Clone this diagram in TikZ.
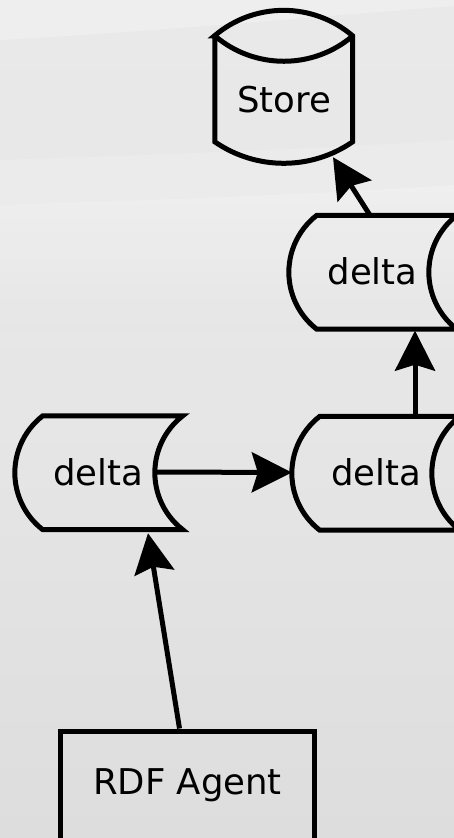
\documentclass[tikz,border=0pt]{standalone}
\usepackage{fontspec}
\setmainfont{DejaVu Sans}
\usetikzlibrary{arrows.meta,calc}
\definecolor{bgtop}{HTML}{E9E9E9}
\definecolor{bgmid}{HTML}{E6E6E6}
\definecolor{bgbot}{HTML}{DDDDDD}
\definecolor{bglight}{HTML}{F1F1F1}
\newcommand\deltashape[1]{%
  \draw[outline] ($(#1.north west)+(28,0)$)
    arc[start angle=127.7,end angle=232.3,radius=72] -- ++(140,0)
    arc[start angle=232.3,end angle=127.7,radius=72] -- cycle;}
\begin{document}
\begin{tikzpicture}[x=1pt,y=1pt,
  lbl/.style={font=\fontsize{35.5}{42}\selectfont, text=black},
  outline/.style={line width=5pt, draw=black, line join=miter},
  arr/.style={line width=5pt, draw=black, -{Stealth[length=40pt,width=40pt,inset=6pt]}},
  holder/.style={rectangle, inner sep=0pt, minimum width=140pt, minimum height=112pt, lbl},
]
\useasboundingbox (0,0) rectangle (454,-838);
\begin{scope}
\clip (0,0) rectangle (454,-838);
% background
\shade[top color=bgtop, bottom color=bgbot, middle color=bgmid] (0,0) rectangle (454,-838);
\fill[bglight,opacity=0.7] (0,0) -- (454,0) -- (454,-6) .. controls (300,-18) and (120,-34) .. (0,-40) -- cycle;
\fill[bglight,opacity=0.35] (0,-160) .. controls (150,-155) and (300,-150) .. (454,-140) -- (454,-185) .. controls (300,-195) and (150,-200) .. (0,-205) -- cycle;
\shade[top color=bglight, bottom color=bgmid, opacity=0.8] (0,-205) .. controls (150,-200) and (300,-195) .. (454,-185) -- (454,-330) -- (0,-330) -- cycle;

% store
\node[rectangle, inner sep=0pt, minimum width=138pt, minimum height=128pt, lbl] (store) at (284,-100) {Store};
\draw[outline] (store.north west) -- ++(0,-106)
   arc[start angle=235.35,end angle=304.65,radius=121.2] -- ++(0,106)
   arc[start angle=49.5,end angle=130.5,radius=106.3] -- cycle;
\draw[outline] (store.north west) arc[start angle=229.5,end angle=310.5,radius=106.3];

% delta nodes
\node[holder] (d1) at (85,-472) {\hspace*{26pt}delta};
\node[holder] (d2) at (362,-472.5) {\hspace*{28pt}delta};
\node[holder] (d3) at (359,-271.5) {\hspace*{27pt}delta};
\deltashape{d1}
\deltashape{d2}
\deltashape{d3}

% RDF agent
\node[draw, line width=5pt, rectangle, inner sep=0pt, minimum width=253.5pt, minimum height=130pt,
      label={[lbl, yshift=11pt]center:RDF Agent}] (rdf) at (187.5,-796) {};

% connectors
\draw[arr] ($(rdf.north)+(-8,0)$) -- ($(d1.south)+(63,-5)$);
\draw[arr] (d1.east) -- (d2.west);
\coordinate (up) at ($(d2.north)+(53,0)$);
\draw[arr] (up) -- ($(up |- d3.south)+(0,-3)$);
\draw[arr] ($(d3.north)+(11,0)$) -- ($(store.south)+(49,7)$);
\end{scope}
\end{tikzpicture}
\end{document}
